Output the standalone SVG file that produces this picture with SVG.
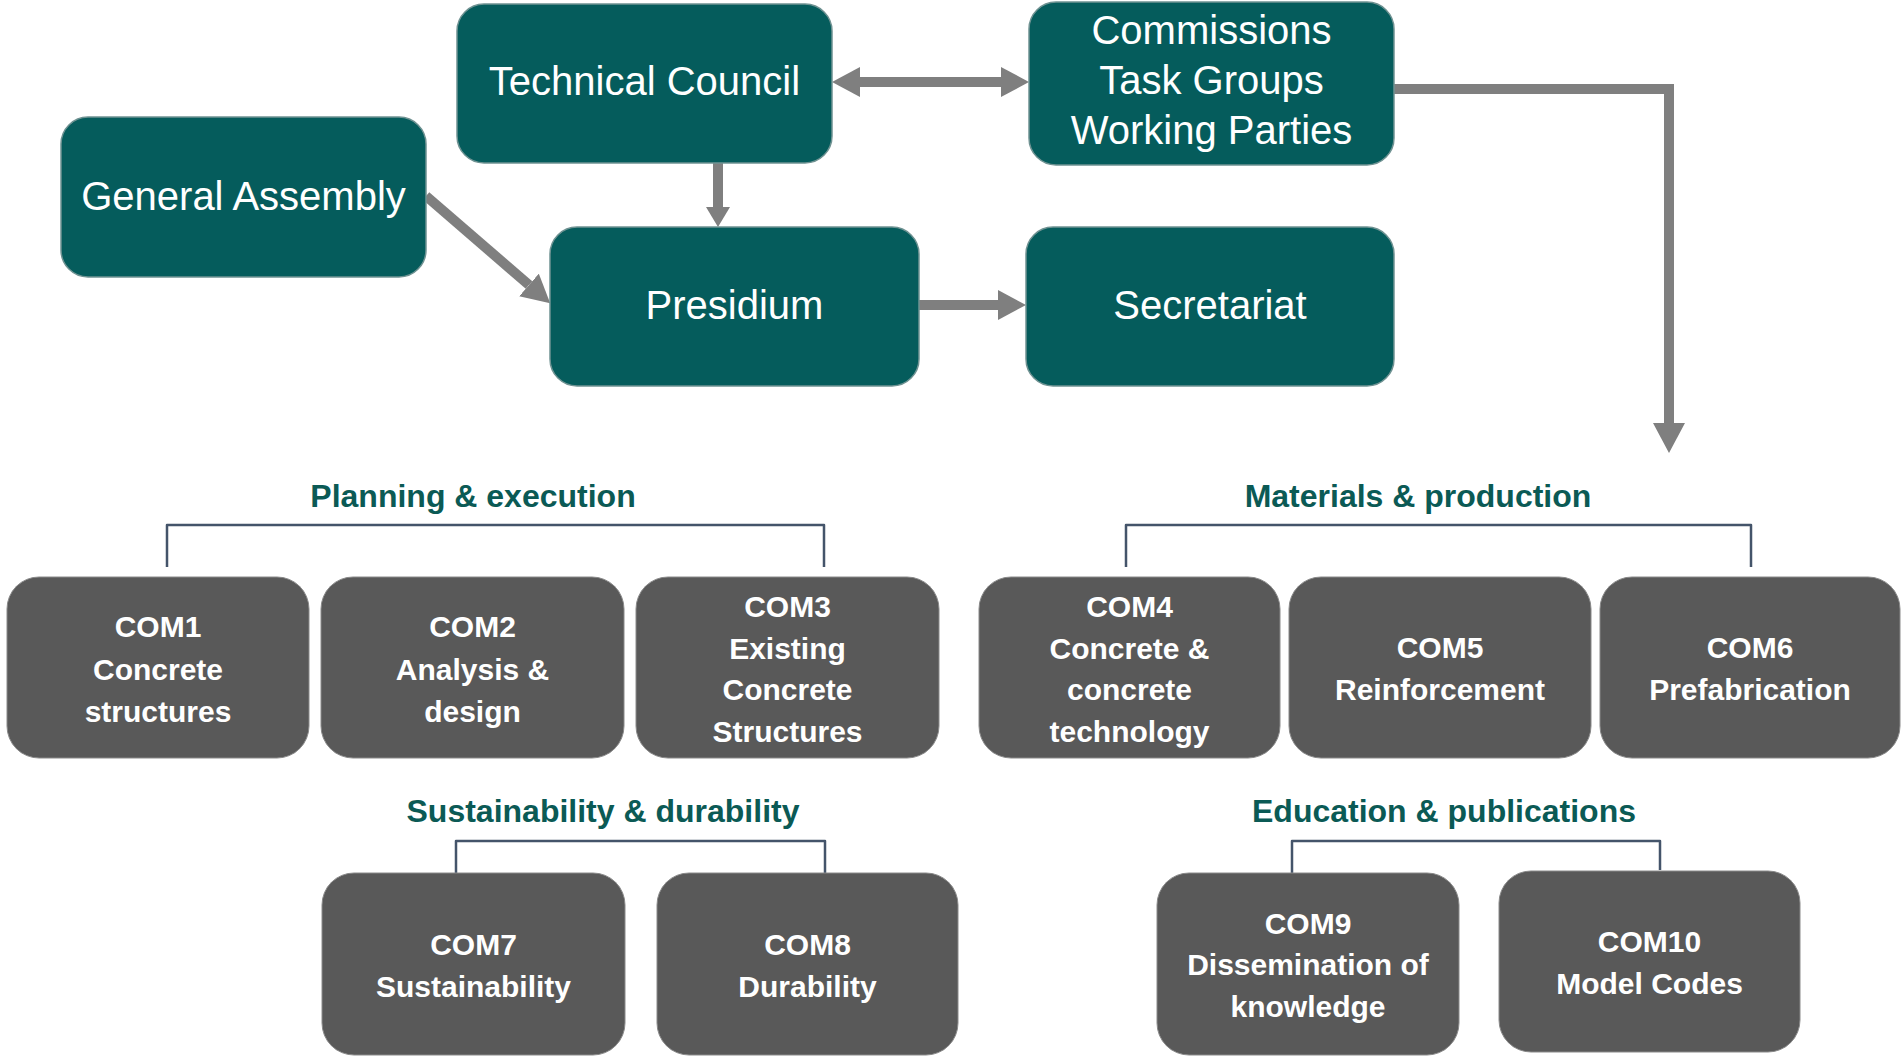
<svg xmlns="http://www.w3.org/2000/svg" width="1901" height="1057" viewBox="0 0 1901 1057">
<style>
.teal{fill:#055c5c;stroke:#6f9292;stroke-width:1.5}
.gray{fill:#595959;stroke:#8a8a8a;stroke-width:1}
.tt{font-family:"Liberation Sans",Arial,sans-serif;font-size:40px;fill:#ffffff;text-anchor:middle}
.gt{font-family:"Liberation Sans",Arial,sans-serif;font-size:30px;font-weight:bold;fill:#ffffff;text-anchor:middle}
.hd{font-family:"Liberation Sans",Arial,sans-serif;font-size:32px;font-weight:bold;fill:#0b5a55;text-anchor:middle}
.arr{fill:none;stroke:#7f7f7f;stroke-width:10}
.brk{fill:none;stroke:#44546a;stroke-width:2.5;stroke-linejoin:round}
</style>
<defs>
<marker id="ah" markerUnits="userSpaceOnUse" viewBox="0 0 28 30" markerWidth="28" markerHeight="30" refX="0" refY="15" orient="auto-start-reverse"><path d="M0,0 L28,15 L0,30 z" fill="#7f7f7f"/></marker>
<marker id="ahs" markerUnits="userSpaceOnUse" viewBox="0 0 20 24" markerWidth="20" markerHeight="24" refX="0" refY="12" orient="auto"><path d="M0,0 L20,12 L0,24 z" fill="#7f7f7f"/></marker>
<marker id="ahl" markerUnits="userSpaceOnUse" viewBox="0 0 30 32" markerWidth="30" markerHeight="32" refX="0" refY="16" orient="auto"><path d="M0,0 L30,16 L0,32 z" fill="#7f7f7f"/></marker>
</defs>

<g id="connectors">
<line class="arr" x1="718" y1="163" x2="718" y2="207" marker-end="url(#ahs)"/>
<line class="arr" x1="860" y1="82" x2="1001" y2="82" marker-start="url(#ah)" marker-end="url(#ah)"/>
<line class="arr" x1="919" y1="305" x2="998" y2="305" marker-end="url(#ah)"/>
<line class="arr" x1="426" y1="196" x2="529" y2="285" marker-end="url(#ah)"/>
<polyline class="arr" points="1394,89 1669,89 1669,423" marker-end="url(#ahl)"/>
<path class="brk" d="M167,567 V525 H824 V567"/>
<path class="brk" d="M1126,567 V525 H1751 V567"/>
<path class="brk" d="M456,873 V841 H825 V873"/>
<path class="brk" d="M1292,873 V841 H1660 V870"/>
</g>

<g id="technical-council">
<rect class="teal" x="457" y="4" width="375" height="159" rx="27"/>
<text class="tt" x="644.5" y="95">Technical Council</text>
</g>
<g id="commissions">
<rect class="teal" x="1029" y="2" width="365" height="163" rx="27"/>
<text class="tt" x="1211.5" y="44">Commissions</text>
<text class="tt" x="1211.5" y="94">Task Groups</text>
<text class="tt" x="1211.5" y="144">Working Parties</text>
</g>
<g id="general-assembly">
<rect class="teal" x="61" y="117" width="365" height="160" rx="27"/>
<text class="tt" x="243.5" y="210">General Assembly</text>
</g>
<g id="presidium">
<rect class="teal" x="550" y="227" width="369" height="159" rx="27"/>
<text class="tt" x="734.5" y="319">Presidium</text>
</g>
<g id="secretariat">
<rect class="teal" x="1026" y="227" width="368" height="159" rx="27"/>
<text class="tt" x="1210" y="319">Secretariat</text>
</g>

<g id="heading-planning"><text class="hd" x="473" y="507">Planning &amp; execution</text></g>
<g id="heading-materials"><text class="hd" x="1418" y="507">Materials &amp; production</text></g>
<g id="heading-sustainability"><text class="hd" x="603" y="822">Sustainability &amp; durability</text></g>
<g id="heading-education"><text class="hd" x="1444" y="822">Education &amp; publications</text></g>

<g id="com1">
<rect class="gray" x="7" y="577" width="302" height="181" rx="32"/>
<text class="gt" x="158" y="637">COM1</text>
<text class="gt" x="158" y="680">Concrete</text>
<text class="gt" x="158" y="722">structures</text>
</g>
<g id="com2">
<rect class="gray" x="321" y="577" width="303" height="181" rx="32"/>
<text class="gt" x="472.5" y="637">COM2</text>
<text class="gt" x="472.5" y="680">Analysis &amp;</text>
<text class="gt" x="472.5" y="722">design</text>
</g>
<g id="com3">
<rect class="gray" x="636" y="577" width="303" height="181" rx="32"/>
<text class="gt" x="787.5" y="617">COM3</text>
<text class="gt" x="787.5" y="659">Existing</text>
<text class="gt" x="787.5" y="700">Concrete</text>
<text class="gt" x="787.5" y="742">Structures</text>
</g>
<g id="com4">
<rect class="gray" x="979" y="577" width="301" height="181" rx="32"/>
<text class="gt" x="1129.5" y="617">COM4</text>
<text class="gt" x="1129.5" y="659">Concrete &amp;</text>
<text class="gt" x="1129.5" y="700">concrete</text>
<text class="gt" x="1129.5" y="742">technology</text>
</g>
<g id="com5">
<rect class="gray" x="1289" y="577" width="302" height="181" rx="32"/>
<text class="gt" x="1440" y="658">COM5</text>
<text class="gt" x="1440" y="700">Reinforcement</text>
</g>
<g id="com6">
<rect class="gray" x="1600" y="577" width="300" height="181" rx="32"/>
<text class="gt" x="1750" y="658">COM6</text>
<text class="gt" x="1750" y="700">Prefabrication</text>
</g>
<g id="com7">
<rect class="gray" x="322" y="873" width="303" height="182" rx="32"/>
<text class="gt" x="473.5" y="955">COM7</text>
<text class="gt" x="473.5" y="997">Sustainability</text>
</g>
<g id="com8">
<rect class="gray" x="657" y="873" width="301" height="182" rx="32"/>
<text class="gt" x="807.5" y="955">COM8</text>
<text class="gt" x="807.5" y="997">Durability</text>
</g>
<g id="com9">
<rect class="gray" x="1157" y="873" width="302" height="182" rx="32"/>
<text class="gt" x="1308" y="934">COM9</text>
<text class="gt" x="1308" y="975">Dissemination of</text>
<text class="gt" x="1308" y="1017">knowledge</text>
</g>
<g id="com10">
<rect class="gray" x="1499" y="871" width="301" height="181" rx="32"/>
<text class="gt" x="1649.5" y="952">COM10</text>
<text class="gt" x="1649.5" y="994">Model Codes</text>
</g>
</svg>
